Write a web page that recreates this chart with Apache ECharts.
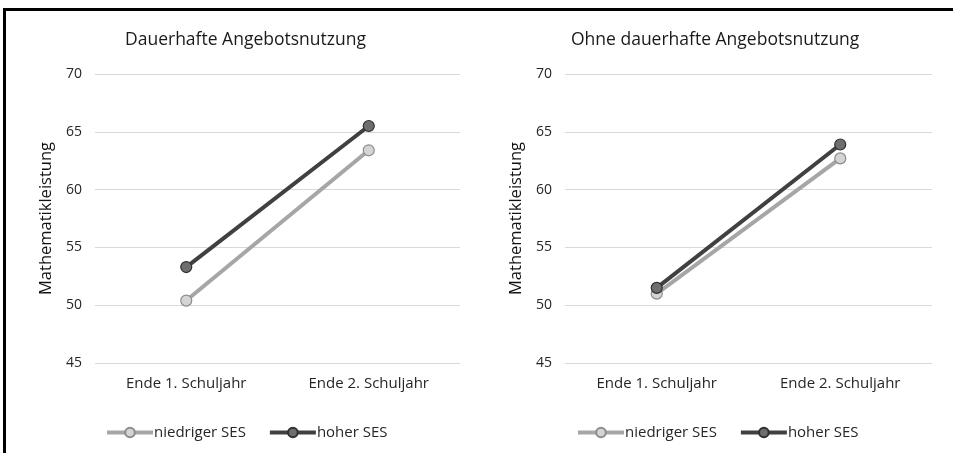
<!DOCTYPE html>
<html><head><meta charset="utf-8">
<script src="https://cdn.jsdelivr.net/npm/echarts@6/dist/echarts.min.js"></script>
<style>html,body{margin:0;padding:0;background:#fff}#c{width:953px;height:453px}</style>
</head><body><div id="c"></div>
<script>
const categories = ['Ende 1. Schuljahr', 'Ende 2. Schuljahr'];
const titles = ['Dauerhafte Angebotsnutzung', 'Ohne dauerhafte Angebotsnutzung'];
const seriesNames = ['niedriger SES', 'hoher SES'];
const leftLow = [50.4, 63.4];
const leftHigh = [53.3, 65.5];
const rightLow = [51.0, 62.7];
const rightHigh = [51.5, 63.9];
const yTicks = {min: 45, max: 70, interval: 5};

const FONT = '"Open Sans", Lato, sans-serif';
const lowStyle = {color: '#a6a6a6', fill: '#d4d4d4', border: '#8c8c8c'};
const highStyle = {color: '#404040', fill: '#6e6e6e', border: '#303030'};

function mkSeries(name, data, idx, st) {
  return {
    name: name, type: 'line', xAxisIndex: idx, yAxisIndex: idx, data: data,
    symbol: 'circle', symbolSize: 11,
    lineStyle: {color: st.color, width: 4},
    itemStyle: {color: st.fill, borderColor: st.border, borderWidth: 1.2},
    emphasis: {disabled: true}, z: name === seriesNames[1] ? 3 : 2
  };
}
const grids = [
  {left: 95, top: 74, width: 365, height: 289},
  {left: 565, top: 74, width: 367, height: 289}
];
const chart = echarts.init(document.getElementById('c'));
chart.setOption({
  animation: false,
  textStyle: {fontFamily: FONT},
  title: [
    {text: titles[0], left: 120, top: 26, textStyle: {fontFamily: FONT, fontSize: 17.5, fontWeight: 'normal', color: '#1a1a1a'}},
    {text: titles[1], left: 566, top: 26, textStyle: {fontFamily: FONT, fontSize: 17.5, fontWeight: 'normal', color: '#1a1a1a'}}
  ],
  grid: grids,
  legend: [0, 1].map(i => ({
    data: seriesNames, left: i === 0 ? 100 : 571, top: 420, itemWidth: 46, itemHeight: 12, itemGap: 22,
    lineStyle: {width: 4},
    textStyle: {fontFamily: FONT, fontSize: 15, color: '#262626', padding: [0, 0, 0, -4]},
    selectedMode: false
  })),
  xAxis: [0, 1].map(i => ({
    type: 'category', gridIndex: i, data: categories,
    axisLine: {show: false}, axisTick: {show: false},
    axisLabel: {fontFamily: FONT, fontSize: 15, color: '#262626', margin: 13}
  })),
  yAxis: [0, 1].map(i => ({
    type: 'value', gridIndex: i, min: yTicks.min, max: yTicks.max, interval: yTicks.interval,
    name: 'Mathematikleistung', nameLocation: 'middle', nameGap: 40,
    nameTextStyle: {fontFamily: FONT, fontSize: 16.5, color: '#111'},
    axisLine: {show: false}, axisTick: {show: false},
    axisLabel: {fontFamily: FONT, fontSize: 14, color: '#262626', margin: 13},
    splitLine: {lineStyle: {color: '#d9d9d9', width: 1}}
  })),
  series: [
    mkSeries(seriesNames[0], leftLow, 0, lowStyle),
    mkSeries(seriesNames[1], leftHigh, 0, highStyle),
    mkSeries(seriesNames[0], rightLow, 1, lowStyle),
    mkSeries(seriesNames[1], rightHigh, 1, highStyle)
  ],
  graphic: [
    {type: 'line', shape: {x1: 3, y1: 9.5, x2: 953, y2: 9.5}, style: {stroke: '#000', lineWidth: 3}, silent: true},
    {type: 'line', shape: {x1: 4.5, y1: 8, x2: 4.5, y2: 453}, style: {stroke: '#000', lineWidth: 3}, silent: true}
  ]
});
</script></body></html>
